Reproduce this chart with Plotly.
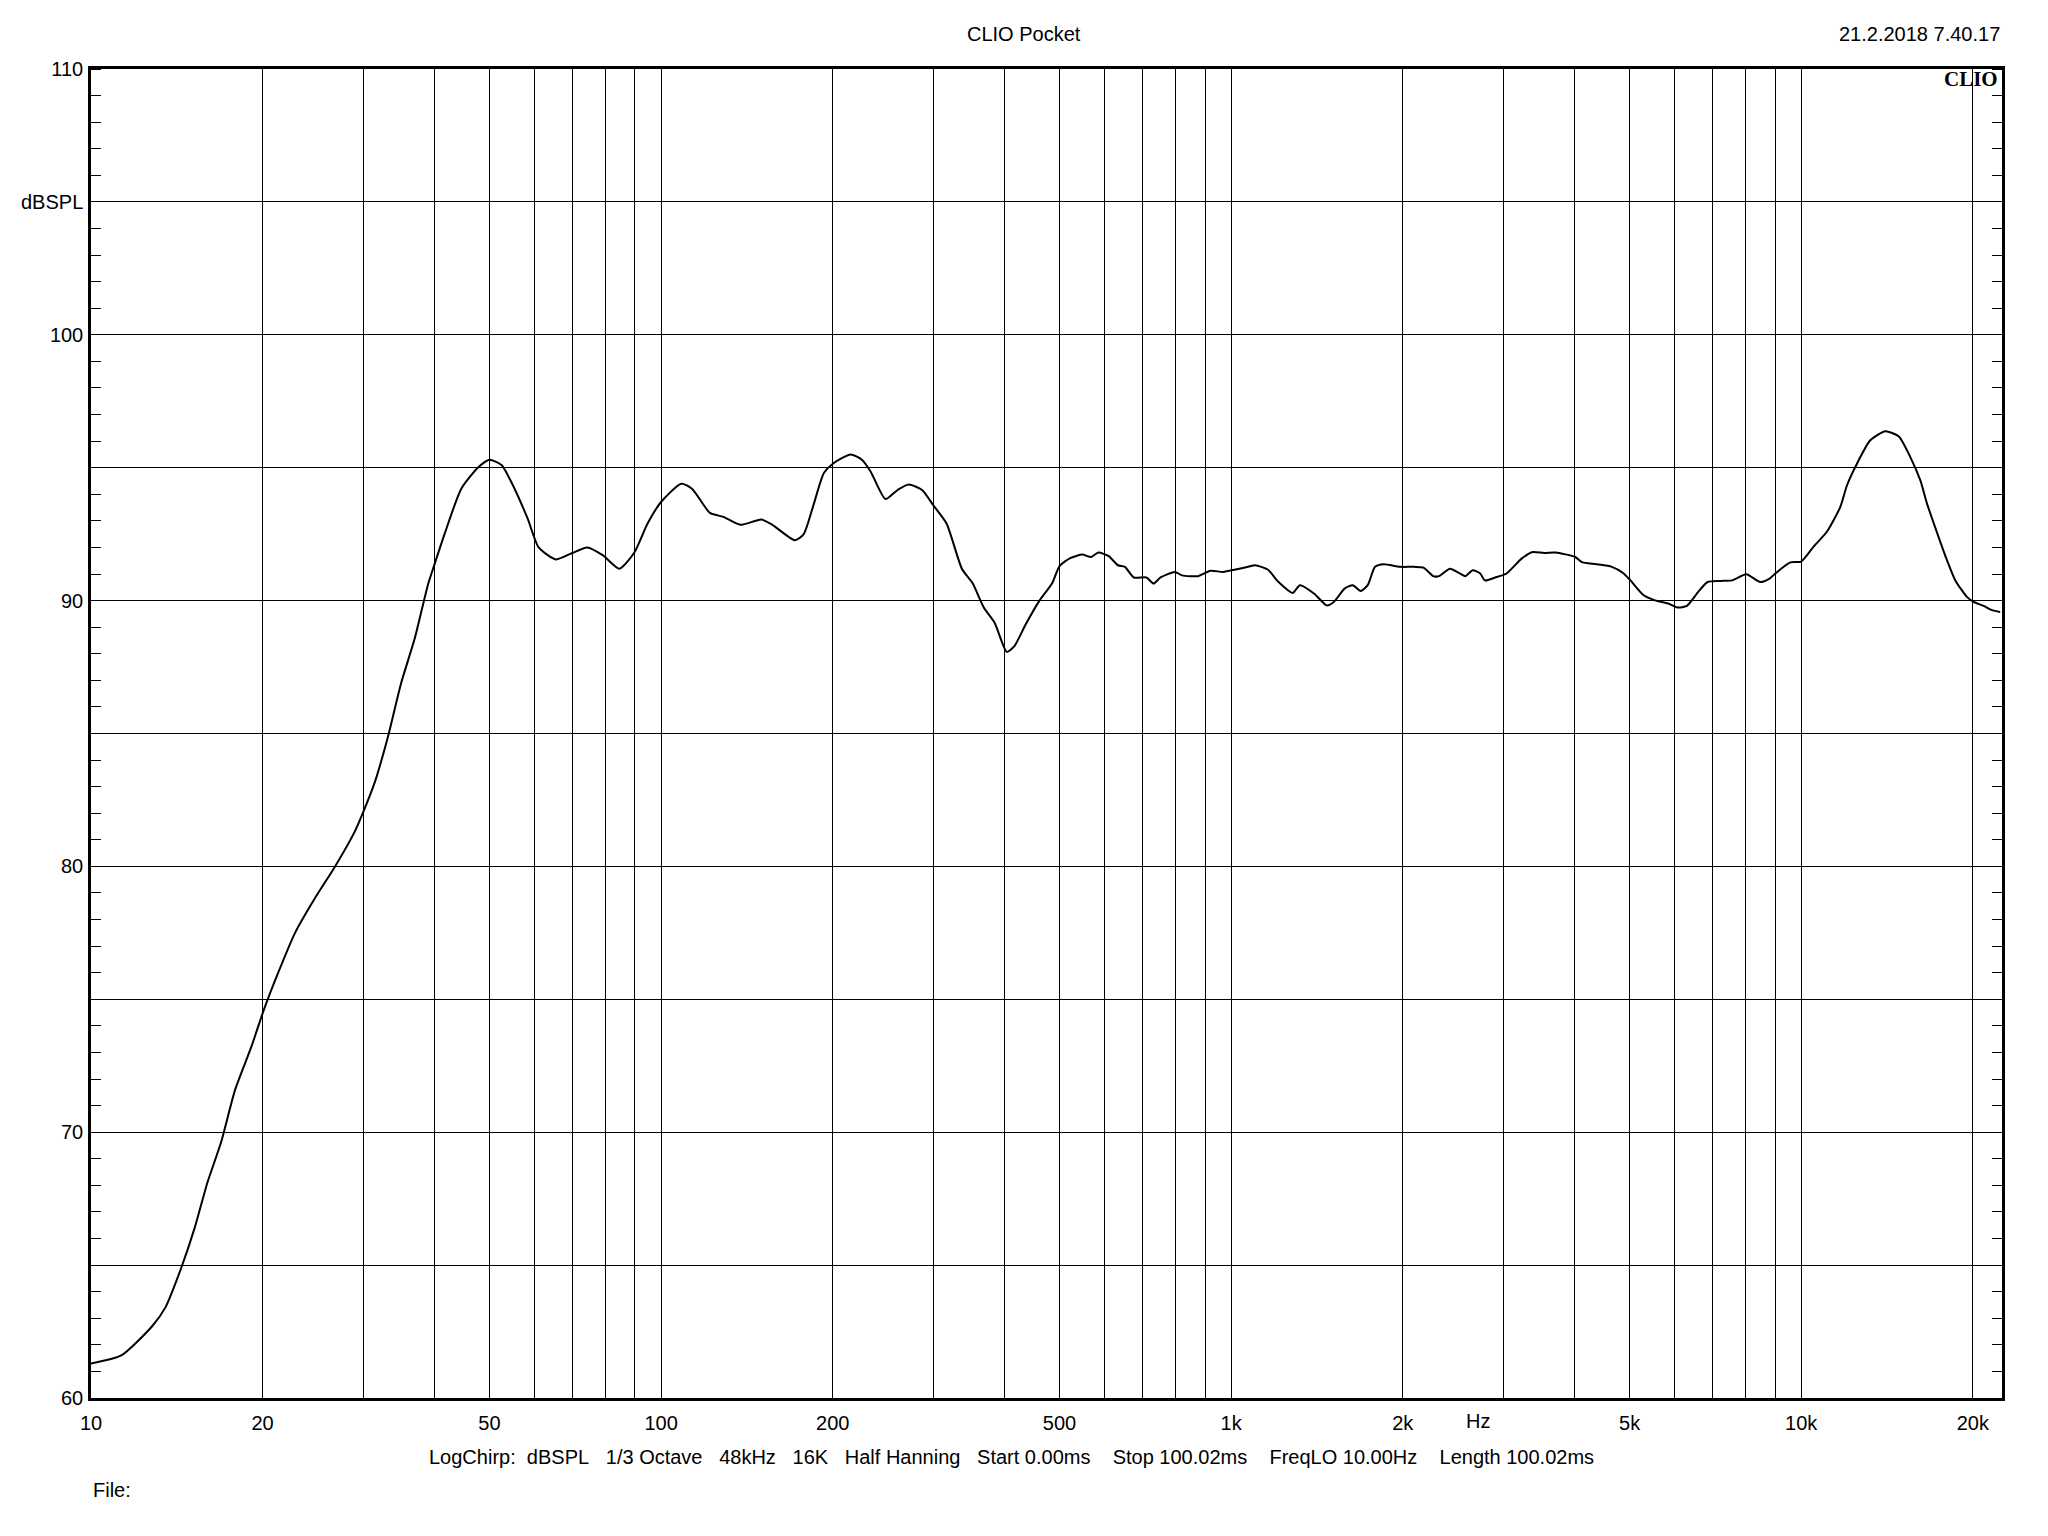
import math
import plotly.graph_objects as go

# ---- data ----
freq_hz = [10, 11.3, 12.8, 13.5, 14.4, 15.2, 16.0, 16.9, 17.9, 19.1, 20.1, 21.3, 22.8, 24.7,
           26.8, 29.0, 30.1, 31.5, 33.2, 35.0, 37.0, 39.0, 40.1, 41.7, 44.6, 47.7, 50.0,
           52.5, 54.5, 58.3, 61.0, 65.4, 70, 74.2, 79.1, 84.5, 89.7, 94.7, 99.9, 108.5,
           113.4, 121.8, 128.6, 137.7, 149.9, 156.8, 171.7, 177.9, 184.5, 193, 200.4, 215,
           225, 233.2, 247.5, 259.8, 271.8, 287, 300, 316.8, 337, 352, 368, 385, 404, 417,
           436, 461, 485, 500, 522, 548, 568, 585, 610, 633, 651, 675, 710, 731, 752, 797,
           820, 875, 920, 968, 1018, 1071, 1102, 1159, 1211, 1282, 1320, 1399, 1471, 1514,
           1581, 1634, 1687, 1736, 1788, 1853, 1978, 2095, 2175, 2262, 2314, 2420, 2509,
           2574, 2653, 2735, 2786, 2906, 3042, 3232, 3383, 3540, 3706, 4015, 4120, 4377,
           4653, 4869, 5017, 5292, 5541, 5842, 6068, 6302, 6597, 6852, 7210, 7559, 8012,
           8474, 8800, 9030, 9566, 10000, 10530, 11100, 11707, 12031, 12524, 13216, 14045,
           14821, 15536, 16180, 16621, 17417, 18016, 18632, 19530, 20060, 20886, 21605, 22340]
spl_db = [61.3, 61.6, 62.7, 63.4, 64.9, 66.4, 68.1, 69.6, 71.6, 73.2, 74.6, 76.0, 77.5, 78.8,
          80.0, 81.3, 82.1, 83.2, 84.9, 86.9, 88.6, 90.6, 91.4, 92.5, 94.2, 95.0, 95.3,
          95.1, 94.5, 93.1, 92.0, 91.55, 91.8, 92.0, 91.7, 91.2, 91.8, 92.9, 93.7, 94.4,
          94.2, 93.3, 93.15, 92.85, 93.05, 92.85, 92.27, 92.5, 93.5, 94.8, 95.16, 95.5,
          95.3, 94.85, 93.82, 94.16, 94.37, 94.16, 93.6, 92.9, 91.2, 90.65, 89.75, 89.15, 88.07, 88.3,
          89.1, 90.0, 90.64, 91.3, 91.6, 91.73, 91.64, 91.81, 91.67, 91.33, 91.27, 90.87, 90.87, 90.64, 90.87, 91.08,
          90.95, 90.92, 91.12, 91.08, 91.17, 91.27, 91.33, 91.17, 90.7, 90.29, 90.58, 90.26, 89.82, 89.95,
          90.45, 90.58, 90.36, 90.58, 91.27, 91.37, 91.27, 91.27, 91.24, 90.92, 90.92, 91.2, 91.04,
          90.92, 91.14, 91.02, 90.76, 90.87, 91.02, 91.58, 91.83, 91.79, 91.81, 91.64, 91.45, 91.37,
          91.27, 91.04, 90.76, 90.2, 90.01, 89.89, 89.74, 89.8, 90.33, 90.7, 90.74, 90.76, 90.99,
          90.7, 90.83, 91.04, 91.44, 91.47, 92.05, 92.6, 93.52, 94.34, 95.15, 96.03, 96.37,
          96.18, 95.4, 94.52, 93.65, 92.39, 91.52, 90.76, 90.14, 89.95, 89.8, 89.64, 89.57]

x_grid_hz = [10, 20, 30, 40, 50, 60, 70, 80, 90, 100, 200, 300, 400, 500, 600, 700, 800, 900,
             1000, 2000, 3000, 4000, 5000, 6000, 7000, 8000, 9000, 10000, 20000]
x_labels = {10: "10", 20: "20", 50: "50", 100: "100", 200: "200", 500: "500", 1000: "1k",
            2000: "2k", 5000: "5k", 10000: "10k", 20000: "20k"}
y_grid = [60, 65, 70, 75, 80, 85, 90, 95, 100, 105, 110]
y_labels = {60: "60", 70: "70", 80: "80", 90: "90", 100: "100", 105: "dBSPL", 110: "110"}

title_text = "CLIO Pocket"
date_text = "21.2.2018 7.40.17"
brand_text = "CLIO"
unit_text = "Hz"
unit_pos_hz = 2710
info_text = ("LogChirp:  dBSPL   1/3 Octave   48kHz   16K   Half Hanning   Start 0.00ms    "
             "Stop 100.02ms    FreqLO 10.00Hz    Length 100.02ms")
file_text = "File:"

# ---- layout geometry (page pixels; the html body adds an 8 px offset) ----
OFF = 8
W, H = 2032, 1520
L, R, T, B = 91, 2002, 69, 1398   # plot area on the page
FONT = "Liberation Sans, Arial, sans-serif"
FS = 20


def px(xpix):
    return (xpix - L) / (R - L)


def py(ypix):
    return (B - ypix) / (B - T)


fig = go.Figure()
fig.add_trace(go.Scatter(x=freq_hz, y=spl_db, mode="lines",
                         line=dict(color="black", width=2, shape="spline", smoothing=0.6),
                         hoverinfo="skip", showlegend=False))

fig.update_layout(
    width=W, height=H,
    margin=dict(l=L - OFF, r=W - (R - OFF), t=T - OFF, b=H - (B - OFF), pad=0),
    paper_bgcolor="white", plot_bgcolor="white",
    font=dict(family=FONT, size=FS, color="black"),
    showlegend=False,
)

fig.update_xaxes(
    type="log", range=[1, math.log10(22500)],
    tickmode="array", tickvals=x_grid_hz,
    ticktext=[x_labels.get(v, "") for v in x_grid_hz],
    ticks="", showgrid=True, gridcolor="black", gridwidth=1,
    showline=True, linecolor="black", linewidth=2.5, mirror=True,
    zeroline=False, tickfont=dict(family=FONT, size=FS, color="black"),
    ticklabelstandoff=5,
)
fig.update_yaxes(
    range=[60, 110],
    tickmode="array", tickvals=y_grid,
    ticktext=[y_labels.get(v, "") for v in y_grid],
    ticks="", showgrid=True, gridcolor="black", gridwidth=1,
    showline=True, linecolor="black", linewidth=2.5, mirror="allticks",
    zeroline=False, tickfont=dict(family=FONT, size=FS, color="black"),
    minor=dict(tickvals=list(range(60, 111)), ticks="inside", ticklen=10,
               tickwidth=1, tickcolor="black", showgrid=False),
    ticklabelstandoff=1,
)

ann = []
ann.append(dict(text=title_text, xref="paper", yref="paper", x=px(1024), y=py(34),
                xanchor="center", yanchor="middle", showarrow=False,
                font=dict(family=FONT, size=FS, color="black")))
ann.append(dict(text=date_text, xref="paper", yref="paper", x=px(2002), y=py(34),
                xanchor="right", yanchor="middle", showarrow=False,
                font=dict(family=FONT, size=FS, color="black")))
ann.append(dict(text="<b>" + brand_text + "</b>", xref="paper", yref="paper", x=px(2000), y=py(79),
                xanchor="right", yanchor="middle", showarrow=False,
                font=dict(family="Liberation Serif, Times New Roman, serif", size=21, color="black")))
ann.append(dict(text=unit_text, xref="x", yref="paper", x=math.log10(unit_pos_hz), y=py(1421),
                xanchor="center", yanchor="middle", showarrow=False,
                font=dict(family=FONT, size=FS, color="black")))
ann.append(dict(text=info_text.replace(" ", "\u00a0"), xref="paper", yref="paper", x=px(1011), y=py(1457),
                xanchor="center", yanchor="middle", showarrow=False,
                font=dict(family=FONT, size=FS, color="black")))
ann.append(dict(text=file_text, xref="paper", yref="paper", x=px(91), y=py(1490),
                xanchor="left", yanchor="middle", showarrow=False,
                font=dict(family=FONT, size=FS, color="black")))
fig.update_layout(annotations=ann)

fig.write_html("out.html")
